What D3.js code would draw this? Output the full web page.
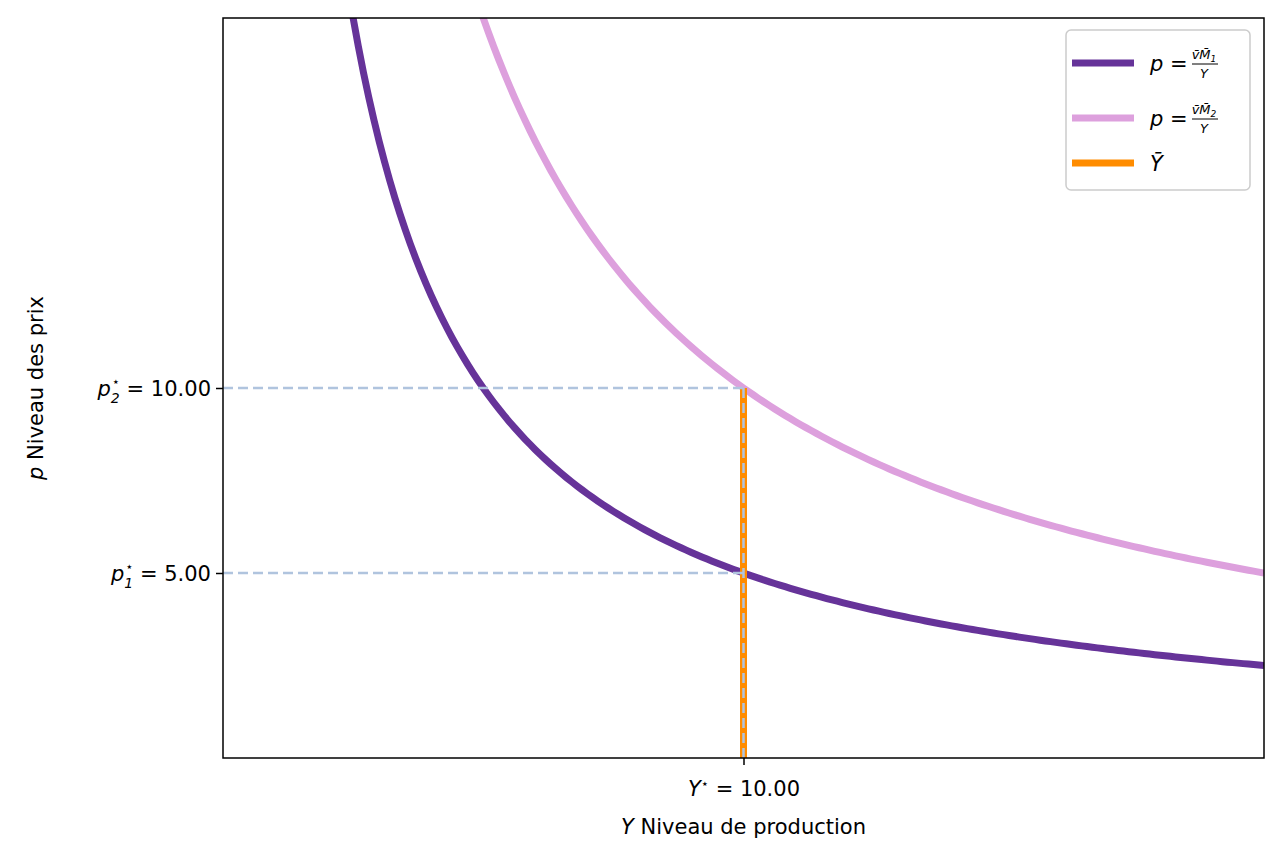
<!DOCTYPE html>
<html><head><meta charset="utf-8">
<script src="https://cdn.jsdelivr.net/npm/d3@7"></script>
<style>body{margin:0;background:#fff}text{font-family:"DejaVu Sans",sans-serif}</style>
</head><body>
<svg id="chart" width="1283" height="861"></svg>
<script>
// model parameters
var vM = [50, 100];               // v*M1, v*M2
var yStar = 10;
var pStar = [5, 10];
var xTicks = [10];
var yTicks = [5, 10];
var xTickLabels = ["Y\u22c6 = 10.00"];
var curveColors = ["#663399", "#dda0dd"];
var yGrid = d3.range(2.4, 20.05, 0.1);

var svg = d3.select("#chart");
var m = {l: 223, r: 1264, t: 18, b: 758};
var x = d3.scaleLinear().domain([0, 20]).range([m.l, m.r]);
var y = d3.scaleLinear().domain([0, 20]).range([m.b, m.t]);

svg.append("clipPath").attr("id", "clip").append("rect")
    .attr("x", m.l).attr("y", m.t).attr("width", m.r - m.l).attr("height", m.b - m.t);
var g = svg.append("g").attr("clip-path", "url(#clip)");

var line = d3.line().x(function (d) { return x(d[0]); }).y(function (d) { return y(d[1]); });

vM.forEach(function (k, i) {
    g.append("path").datum(yGrid.map(function (Y) { return [Y, k / Y]; }))
        .attr("d", line).attr("fill", "none")
        .attr("stroke", curveColors[i]).attr("stroke-width", 7);
});

// vertical Ybar
g.append("line").attr("x1", x(yStar)).attr("x2", x(yStar))
    .attr("y1", y(0)).attr("y2", y(pStar[1]))
    .attr("stroke", "#ff8c00").attr("stroke-width", 7);

// dashed guides
pStar.forEach(function (p) {
    g.append("line").attr("x1", x(0)).attr("x2", x(yStar)).attr("y1", y(p)).attr("y2", y(p))
        .attr("stroke", "#b0c4de").attr("stroke-width", 2.5).attr("stroke-dasharray", "10,5");
});
g.append("line").attr("x1", x(yStar)).attr("x2", x(yStar)).attr("y1", y(0)).attr("y2", y(pStar[1]))
    .attr("stroke", "#b0c4de").attr("stroke-width", 2.5).attr("stroke-dasharray", "10,5");

svg.append("rect").attr("x", m.l).attr("y", m.t).attr("width", m.r - m.l).attr("height", m.b - m.t)
    .attr("fill", "none").attr("stroke", "#000").attr("stroke-width", 1.5);

// axes
var xa = svg.append("g").attr("transform", "translate(0," + m.b + ")")
    .call(d3.axisBottom(x).tickValues(xTicks).tickSize(7).tickFormat(function (d, i) { return ""; }));
xa.select(".domain").remove();
xa.selectAll("line").attr("stroke-width", 1.5);
xa.selectAll(".tick").append("text").attr("y", 38).attr("text-anchor", "middle")
    .attr("fill", "#000").attr("font-size", 21)
    .html(function (d, i) { return '<tspan font-style="italic">Y</tspan><tspan dy="-8" font-size="13">\u22c6</tspan><tspan dy="8"> = 10.00</tspan>'; });

var ya = svg.append("g").attr("transform", "translate(" + m.l + ",0)")
    .call(d3.axisLeft(y).tickValues(yTicks).tickSize(7).tickFormat(function () { return ""; }));
ya.select(".domain").remove();
ya.selectAll("line").attr("stroke-width", 1.5);
ya.selectAll(".tick").append("text").attr("x", -12).attr("dy", "0.35em").attr("text-anchor", "end")
    .attr("fill", "#000").attr("font-size", 21)
    .html(function (d) {
        var i = yTicks.indexOf(d) + 1;
        return '<tspan font-style="italic">p</tspan><tspan dy="7" font-size="14" font-style="italic">' + i +
            '</tspan><tspan dy="-17" dx="-8" font-size="13">\u22c6</tspan><tspan dy="10"> = ' + d.toFixed(2) + '</tspan>';
    });

svg.append("text").attr("x", (m.l + m.r) / 2).attr("y", 834).attr("text-anchor", "middle")
    .attr("font-size", 21).html('<tspan font-style="italic">Y</tspan> Niveau de production');
svg.append("text").attr("transform", "translate(43," + (m.t + m.b) / 2 + ") rotate(-90)")
    .attr("text-anchor", "middle").attr("font-size", 21)
    .html('<tspan font-style="italic">p</tspan> Niveau des prix');

// legend
var lg = svg.append("g");
lg.append("rect").attr("x", 1066).attr("y", 30).attr("width", 184).attr("height", 160).attr("rx", 5)
    .attr("fill", "#fff").attr("stroke", "#ccc").attr("stroke-width", 1.5);
var legColors = [curveColors[0], curveColors[1], "#ff8c00"];
var legY = [63, 118, 163];
legColors.forEach(function (c, i) {
    lg.append("line").attr("x1", 1072).attr("x2", 1134).attr("y1", legY[i]).attr("y2", legY[i])
        .attr("stroke", c).attr("stroke-width", 7);
});
[1, 2].forEach(function (n, i) {
    var t = lg.append("g").attr("transform", "translate(1150," + legY[i] + ")");
    t.append("text").attr("y", 8).attr("font-size", 21).html('<tspan font-style="italic">p</tspan> =');
    t.append("text").attr("x", 54).attr("y", -4).attr("text-anchor", "middle").attr("font-size", 13)
        .attr("font-style", "italic").html('v\u0304M\u0304<tspan font-size="9" dy="3">' + n + '</tspan>');
    t.append("line").attr("x1", 42).attr("x2", 68).attr("y1", 1).attr("y2", 1).attr("stroke", "#000").attr("stroke-width", 1);
    t.append("text").attr("x", 54).attr("y", 15).attr("text-anchor", "middle").attr("font-size", 13)
        .attr("font-style", "italic").text("Y");
});
lg.append("text").attr("x", 1150).attr("y", legY[2] + 8).attr("font-size", 21).attr("font-style", "italic").text("Y\u0304");
</script>
</body></html>
